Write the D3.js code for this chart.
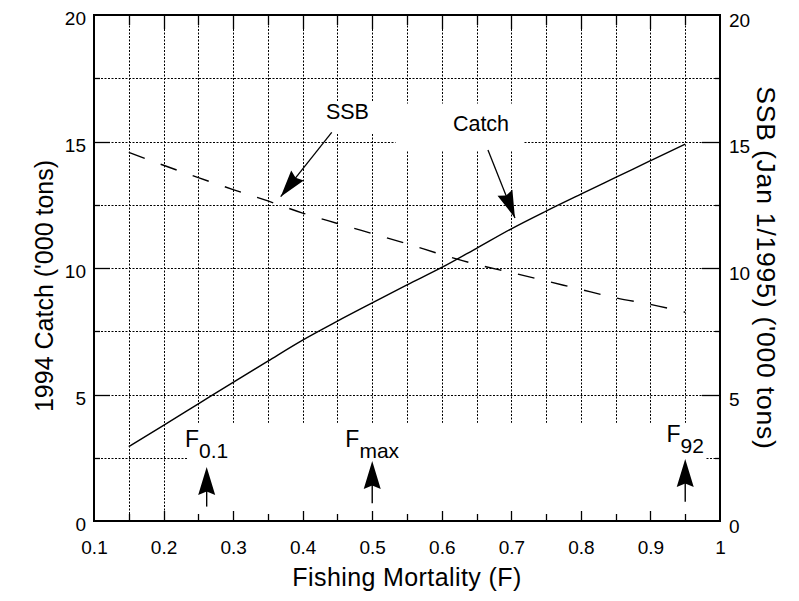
<!DOCTYPE html>
<html>
<head>
<meta charset="utf-8">
<script src="https://cdn.jsdelivr.net/npm/d3@7"></script>
<style>
  html, body { margin: 0; padding: 0; background: #fff; }
  svg { display: block; }
  text { font-family: "Liberation Sans", Arial, Helvetica, sans-serif; fill: #000; }
</style>
</head>
<body>
<svg id="chart" width="799" height="601"></svg>
<script>
// Fishing mortality values at which the projection was run
const fValues = [0.15, 0.2, 0.25, 0.3, 0.35, 0.4, 0.45, 0.5, 0.55, 0.6, 0.65, 0.7, 0.75, 0.8, 0.85, 0.9, 0.95];
// 1994 catch ('000 tons), left axis
const catchValues = [2.94, 3.78, 4.63, 5.48, 6.32, 7.15, 7.9, 8.62, 9.33, 10.02, 10.78, 11.55, 12.25, 12.92, 13.58, 14.24, 14.9];
// Spawning stock biomass, Jan 1 1995 ('000 tons), right axis
const ssbValues = [14.57, 14.06, 13.57, 13.1, 12.65, 12.17, 11.76, 11.36, 10.96, 10.53, 10.14, 9.82, 9.49, 9.15, 8.82, 8.56, 8.25];

const xTickValues = [0.1, 0.2, 0.3, 0.4, 0.5, 0.6, 0.7, 0.8, 0.9, 1];
const xTickLabels = ["0.1", "0.2", "0.3", "0.4", "0.5", "0.6", "0.7", "0.8", "0.9", "1"];
const yTickValues = [0, 5, 10, 15, 20];
const yTickLabels = ["0", "5", "10", "15", "20"];

// Reference points on the F axis
const refNames = ["0.1", "max", "92"];
const refF = [0.262, 0.5, 0.95];

// Curve annotations: label anchor and arrow from/to, in data units
const noteLabels = ["SSB", "Catch"];
const noteTextF = [0.4644, 0.6564];
const noteTextV = [15.89, 15.4];
const noteFromF = [0.4418, 0.6664];
const noteFromV = [15.36, 14.66];
const noteToF = [0.3684, 0.7052];
const noteToV = [12.82, 11.98];

const svg = d3.select("#chart");
const L = 94, R = 720, T = 15, B = 521;

const x = d3.scaleLinear().domain([0.1, 1]).range([L, R]);
const yLeft = d3.scaleLinear().domain([0, 20]).range([B, T]);
const yRight = d3.scaleLinear().domain([0, 20]).range([B, T]);

// dotted grid
const gridX = d3.range(0.15, 0.951, 0.05).map(v => +v.toFixed(2));
const gridY = d3.range(2.5, 17.6, 2.5);
const grid = svg.append("g").attr("stroke", "#000").attr("stroke-width", 1)
  .attr("stroke-dasharray", "2,1.5");
grid.selectAll("line.v").data(gridX).join("line").attr("class", "v")
  .attr("x1", d => Math.round(x(d)) + 0.5).attr("x2", d => Math.round(x(d)) + 0.5)
  .attr("y1", T).attr("y2", B);
grid.selectAll("line.h").data(gridY).join("line").attr("class", "h")
  .attr("x1", L).attr("x2", R)
  .attr("y1", d => Math.round(yLeft(d)) + 0.5).attr("y2", d => Math.round(yLeft(d)) + 0.5);

// blank panels behind the labels
const masks = [
  [x(0.4295), yLeft(16.6), x(0.532) - x(0.4295), yLeft(15.3) - yLeft(16.6)],
  [x(0.5335), yLeft(16.5), x(0.717) - x(0.5335), yLeft(14.65) - yLeft(16.5)],
  [x(0.2341), yLeft(3.88), x(0.9795) - x(0.2341), B - yLeft(3.88)]
];
svg.append("g").selectAll("rect").data(masks).join("rect")
  .attr("x", d => d[0]).attr("y", d => d[1]).attr("width", d => d[2]).attr("height", d => d[3])
  .attr("fill", "#fff");

// data curves
const catchLine = d3.line().x((d, i) => x(fValues[i])).y(d => yLeft(d)).curve(d3.curveMonotoneX);
const ssbLine = d3.line().x((d, i) => x(fValues[i])).y(d => yRight(d)).curve(d3.curveMonotoneX);
svg.append("path").datum(catchValues).attr("d", catchLine)
  .attr("fill", "none").attr("stroke", "#000").attr("stroke-width", 1.4);
svg.append("path").datum(ssbValues).attr("d", ssbLine)
  .attr("fill", "none").attr("stroke", "#000").attr("stroke-width", 1.4)
  .attr("stroke-dasharray", "17,17");

// axes: ticks point into the frame
const minorX = d3.range(0.15, 0.951, 0.1).map(v => +v.toFixed(2));
const majorX = xTickValues.slice(1, -1);
const minorY = [2.5, 7.5, 12.5, 17.5];
const majorY = [5, 10, 15];

const bottom = svg.append("g").attr("transform", `translate(0,${B})`)
  .call(d3.axisBottom(x).tickValues(xTickValues).tickFormat((d, i) => xTickLabels[i]).tickSizeInner(0).tickSizeOuter(0).tickPadding(20));
bottom.select(".domain").remove();
bottom.selectAll("text").attr("font-size", 19).attr("font-family", "Liberation Sans, Arial, sans-serif");

const left = svg.append("g").attr("transform", `translate(${L},0)`)
  .call(d3.axisLeft(yLeft).tickValues(yTickValues).tickFormat((d, i) => yTickLabels[i]).tickSizeInner(0).tickSizeOuter(0).tickPadding(8));
left.select(".domain").remove();
left.selectAll("text").attr("font-size", 19).attr("font-family", "Liberation Sans, Arial, sans-serif").attr("dy", "0.5em");

const right = svg.append("g").attr("transform", `translate(${R},0)`)
  .call(d3.axisRight(yRight).tickValues(yTickValues).tickFormat((d, i) => yTickLabels[i]).tickSizeInner(0).tickSizeOuter(0).tickPadding(9));
right.select(".domain").remove();
right.selectAll("text").attr("font-size", 19).attr("font-family", "Liberation Sans, Arial, sans-serif").attr("dy", "0.6em");

const ticks = svg.append("g").attr("stroke", "#000").attr("stroke-width", 1.3);
function vTicks(vals, y0, len) {
  ticks.append("g").selectAll("line").data(vals).join("line")
    .attr("x1", d => Math.round(x(d)) + 0.5).attr("x2", d => Math.round(x(d)) + 0.5)
    .attr("y1", y0).attr("y2", y0 + len);
}
function hTicks(vals, x0, len) {
  ticks.append("g").selectAll("line").data(vals).join("line")
    .attr("y1", d => Math.round(yLeft(d)) + 0.5).attr("y2", d => Math.round(yLeft(d)) + 0.5)
    .attr("x1", x0).attr("x2", x0 + len);
}
vTicks(majorX, B, -10); vTicks(minorX, B, -7);
vTicks(majorX, T, 14); vTicks(minorX, T, 10);
hTicks(majorY, L, 16); hTicks(minorY, L, 6);
hTicks(majorY, R, -18); hTicks(minorY, R, -5);

// frame
svg.append("rect").attr("x", L).attr("y", T).attr("width", R - L).attr("height", B - T)
  .attr("fill", "none").attr("stroke", "#000").attr("stroke-width", 2);

// axis titles
svg.append("text").attr("x", (L + R) / 2).attr("y", 586).attr("text-anchor", "middle")
  .attr("font-size", 25).attr("letter-spacing", 0.4).text("Fishing Mortality (F)");
svg.append("text").attr("transform", `translate(53,${(T + B) / 2 + 18}) rotate(-90)`)
  .attr("text-anchor", "middle").attr("font-size", 25).text("1994 Catch ('000 tons)");
svg.append("text").attr("transform", `translate(757,${(T + B) / 2}) rotate(90)`)
  .attr("text-anchor", "middle").attr("font-size", 26.5).attr("letter-spacing", 0.8)
  .text("SSB (Jan 1/1995) ('000 tons)");

// arrow head helper: filled spear head with its tip at (x2,y2)
function arrowHead(x1, y1, x2, y2, len, half, notch) {
  const a = Math.atan2(y2 - y1, x2 - x1);
  const ux = Math.cos(a), uy = Math.sin(a);
  const px = -uy, py = ux;
  const bx = x2 - ux * len, by = y2 - uy * len;
  const nx = x2 - ux * (len - notch), ny = y2 - uy * (len - notch);
  return `M${x2},${y2}L${bx + px * half},${by + py * half}L${nx},${ny}L${bx - px * half},${by - py * half}Z`;
}

// curve annotations
const notes = svg.append("g");
noteLabels.forEach((lab, i) => {
  notes.append("text").attr("x", x(noteTextF[i])).attr("y", yLeft(noteTextV[i]))
    .attr("text-anchor", "middle").attr("font-size", 21.5).text(lab);
  const x1 = x(noteFromF[i]), y1 = yLeft(noteFromV[i]);
  const x2 = x(noteToF[i]), y2 = yLeft(noteToV[i]);
  notes.append("line").attr("x1", x1).attr("y1", y1).attr("x2", x2).attr("y2", y2)
    .attr("stroke", "#000").attr("stroke-width", 1.3);
  notes.append("path").attr("d", arrowHead(x1, y1, x2, y2, 27, 8, 3)).attr("fill", "#000");
});

// reference point markers
const refTipV = [2.13, 2.37, 2.45];
const refTailV = [0.57, 0.7, 0.76];
const refLabelV = [2.94, 2.94, 3.14];
const refs = svg.append("g");
refNames.forEach((n, i) => {
  const cx = x(refF[i]);
  const t = refs.append("text").attr("x", cx).attr("y", yLeft(refLabelV[i]))
    .attr("text-anchor", "middle").attr("font-size", 23);
  t.append("tspan").text("F");
  t.append("tspan").attr("dy", 11).attr("font-size", 21).text(n);
  const yt = yLeft(refTipV[i]), yb = yLeft(refTailV[i]);
  refs.append("line").attr("x1", cx).attr("x2", cx).attr("y1", yt + 10).attr("y2", yb)
    .attr("stroke", "#000").attr("stroke-width", 1.4);
  refs.append("path").attr("d", arrowHead(cx, yb, cx, yt, 28, 8.5, 3.5)).attr("fill", "#000");
});
</script>
</body>
</html>
